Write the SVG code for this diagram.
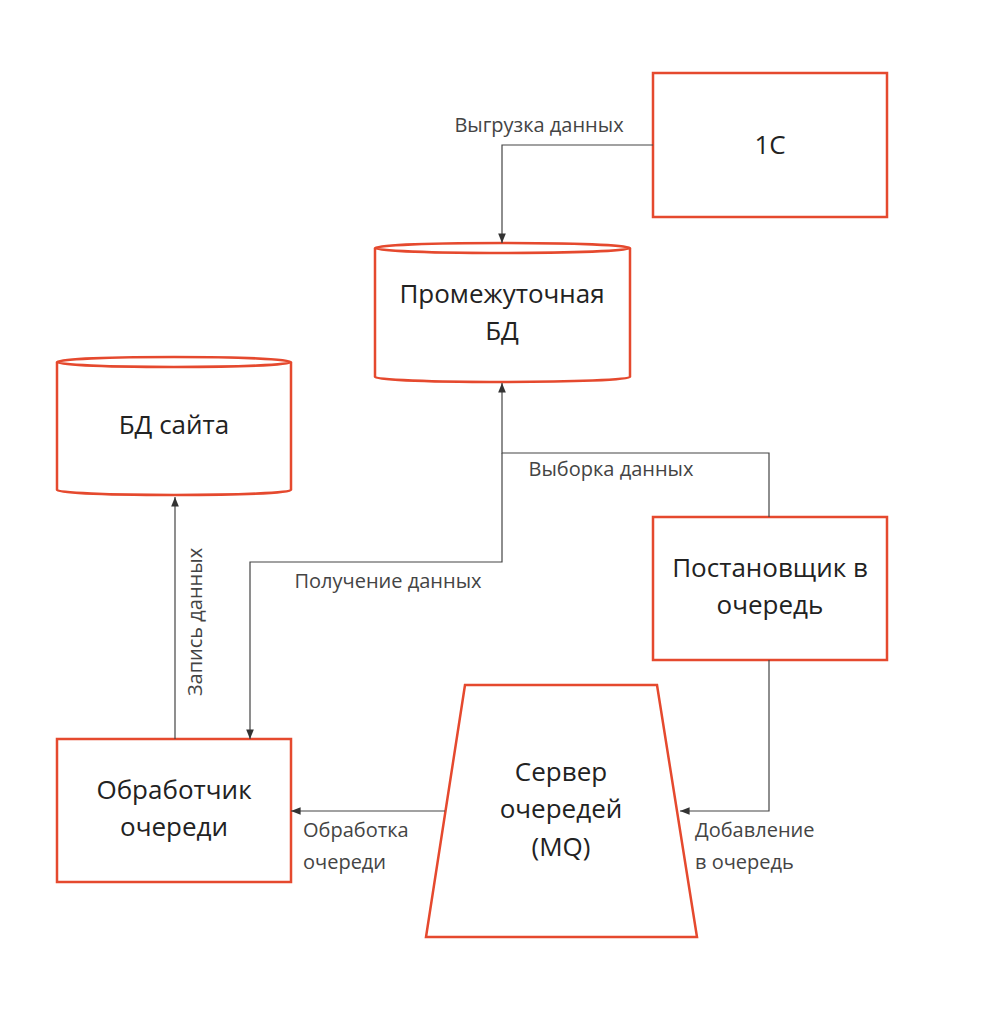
<svg xmlns="http://www.w3.org/2000/svg" width="983" height="1016" viewBox="0 0 983 1016">
<style>
.n{fill:#fff;stroke:#e5492e;stroke-width:2.5}
.t{font-family:"Open Sans","Liberation Sans",sans-serif;font-size:26px;fill:#222;text-anchor:middle}
.l{font-family:"Open Sans","Liberation Sans",sans-serif;font-size:20px;fill:#444}
.c{fill:none;stroke:#444;stroke-width:1.2}
</style>
<defs><marker id="a" viewBox="0 0 10 10" refX="10" refY="5" markerWidth="8" markerHeight="8" orient="auto"><path d="M0,1 L10,5 L0,9 z" fill="#333"/></marker></defs>
<rect width="983" height="1016" fill="#fff"/>
<g id="n1c"><rect class="n" x="653" y="73" width="234" height="144"/><text class="t" x="770" y="154" font-size="30">1С</text></g>
<g id="nPromBD"><path class="n" d="M375,248 V377 A127.5,5 0 0 0 630,377 V248"/><ellipse class="n" cx="502.5" cy="248" rx="127.5" ry="5"/><text class="t" x="502" y="303">Промежуточная</text><text class="t" x="502" y="340">БД</text></g>
<g id="nSiteBD"><path class="n" d="M57,362 V490 A117,5 0 0 0 291,490 V362"/><ellipse class="n" cx="174" cy="362" rx="117" ry="5"/><text class="t" x="174" y="434">БД сайта</text></g>
<g id="nPost"><rect class="n" x="653" y="517" width="234" height="143"/><text class="t" x="770" y="577">Постановщик в</text><text class="t" x="770" y="614">очередь</text></g>
<g id="nObr"><rect class="n" x="57" y="739" width="234" height="143"/><text class="t" x="174" y="799">Обработчик</text><text class="t" x="174" y="836">очереди</text></g>
<g id="nMQ"><polygon class="n" points="465,685 657,685 697,937 426,937"/><text class="t" x="561" y="781">Сервер</text><text class="t" x="561" y="818">очередей</text><text class="t" x="561" y="856">(MQ)</text></g>
<g id="connectors">
<path class="c" d="M653,145 H502 V243" marker-end="url(#a)"/>
<path class="c" d="M769,517 V453 H502 V383" marker-end="url(#a)"/>
<path class="c" d="M502,453 V562 H250 V739" marker-end="url(#a)"/>
<path class="c" d="M175,739 V497" marker-end="url(#a)"/>
<path class="c" d="M769,660 V811 H680" marker-end="url(#a)"/>
<path class="c" d="M445,811 H291" marker-end="url(#a)"/>
<text class="l" x="539" y="132" text-anchor="middle">Выгрузка данных</text>
<text class="l" x="611" y="476" text-anchor="middle">Выборка данных</text>
<text class="l" x="388" y="588" text-anchor="middle">Получение данных</text>
<text class="l" transform="translate(202,622) rotate(-90)" text-anchor="middle">Запись данных</text>
<text class="l" x="695" y="837">Добавление</text>
<text class="l" x="695" y="869">в очередь</text>
<text class="l" x="303" y="837">Обработка</text>
<text class="l" x="303" y="869">очереди</text>
</g>
</svg>
